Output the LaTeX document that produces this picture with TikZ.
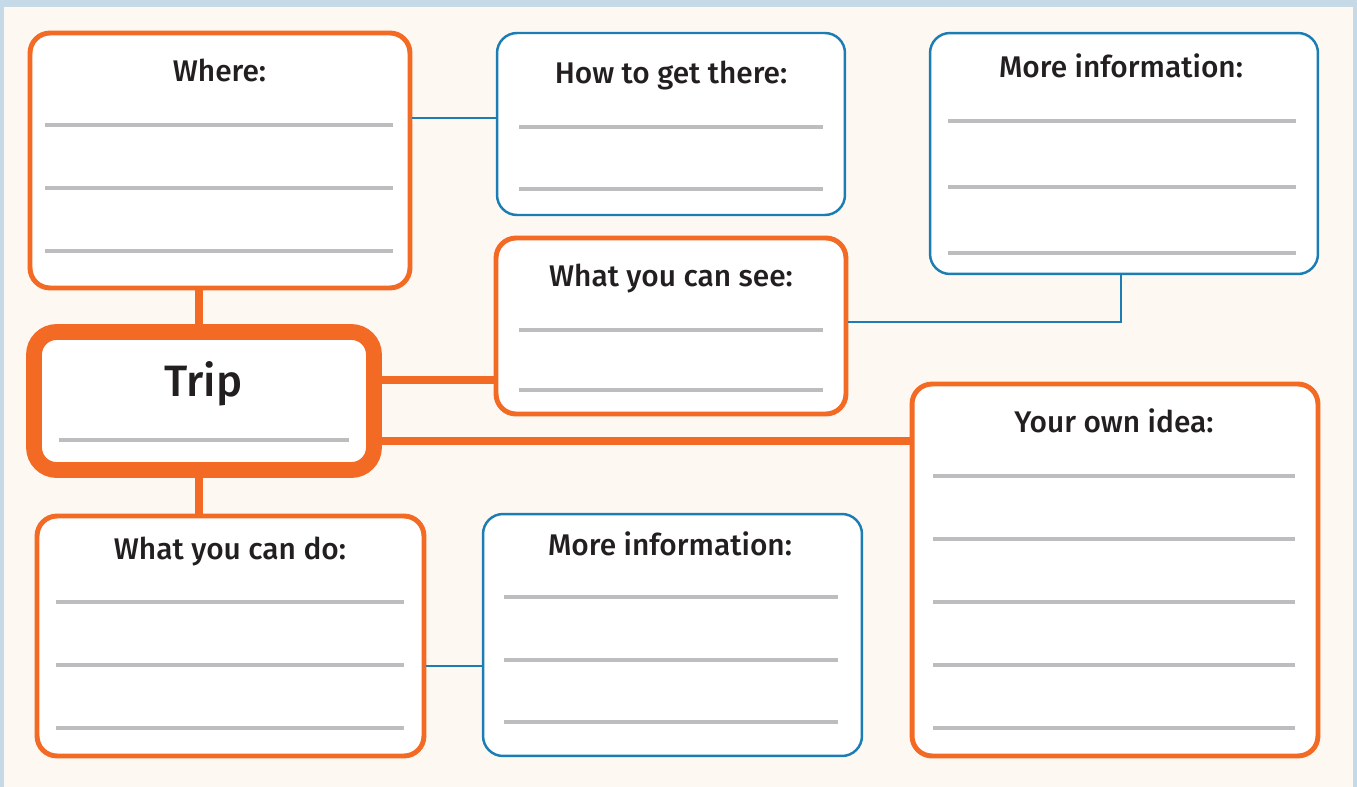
\documentclass[tikz,border=0pt]{standalone}
\usepackage{fontspec}
\setmainfont{Fira Sans}
\newfontfamily\titlefont{Fira Sans Medium}
\begin{document}
\begin{tikzpicture}[x=0.02cm,y=-0.02cm,
  box/.style={draw, rectangle, rounded corners=0.4cm, fill=white, inner sep=0pt},
  obox/.style={box, draw=OrangeC, line width=2.8pt},
  bbox/.style={box, draw=BlueC, line width=1.4pt},
  tbox/.style={box, draw=OrangeC, line width=9pt, rounded corners=0.45cm},
  title/.style={anchor=base, text=TextC, font=\titlefont\fontsize{17}{19}\selectfont, inner sep=0pt},
  wline/.style={draw=GrayC, line width=1.8pt},
  oconn/.style={draw=OrangeC, line width=4pt},
  bconn/.style={draw=BlueC, line width=1.4pt}]
\definecolor{OrangeC}{HTML}{F26A24}
\definecolor{BlueC}{HTML}{1B7DB3}
\definecolor{GrayC}{HTML}{BDBDC0}
\definecolor{TextC}{HTML}{231F20}
\definecolor{BgC}{HTML}{FDF8F2}
\definecolor{FrameC}{HTML}{C6D9E6}
% background and frame
\fill[FrameC] (0,0) rectangle (1357,787);
\fill[BgC] (4,7) rectangle (1353,787);
\useasboundingbox (0,0) rectangle (1357,787);
% coordinates for connectors
\coordinate (vx) at (199,0);
\coordinate (bx) at (1121,0);
\coordinate (ys) at (0,380);
\coordinate (yo) at (0,441);
\coordinate (yw) at (0,118);
\coordinate (yv) at (0,322);
\coordinate (yd) at (0,666);
% boxes
\node[obox, minimum width=7.6cm, minimum height=5.1cm] (where) at (220,160.5) {};
\node[bbox, minimum width=6.96cm, minimum height=3.64cm] (how) at (671,124) {};
\node[bbox, minimum width=7.76cm, minimum height=4.82cm] (moret) at (1124,153.5) {};
\node[obox, minimum width=7.0cm, minimum height=3.52cm] (see) at (671,326) {};
\node[obox, minimum width=7.74cm, minimum height=4.8cm] (do) at (230.5,636) {};
\node[bbox, minimum width=7.58cm, minimum height=4.84cm] (moreb) at (672.5,635) {};
\node[obox, minimum width=8.12cm, minimum height=7.44cm] (own) at (1115,570) {};
\node[tbox, minimum width=6.8cm, minimum height=2.76cm] (trip) at (204,401) {};
% connectors
\draw[oconn] (where.south -| vx) -- (trip.north -| vx);
\draw[oconn] (trip.south -| vx) -- (do.north -| vx);
\draw[oconn] (ys -| trip.east) -- (ys -| see.west);
\draw[oconn] (yo -| trip.east) -- (yo -| own.west);
\draw[bconn] (yw -| where.east) -- (yw -| how.west);
\draw[bconn] (yv -| see.east) -- (yv -| bx) -- (moret.south -| bx);
\draw[bconn] (yd -| do.east) -- (yd -| moreb.west);
% titles
\node[title] (twhere) at (219.5,82) {Where:};
\node[title] (thow) at (671,84) {How to get there:};
\node[title] (tmoret) at (1121,78) {More information:};
\node[title] (tsee) at (671,287) {What you can see:};
\node[title, font=\titlefont\fontsize{25}{28}\selectfont] (ttrip) at (203.5,397) {Trip};
\node[title] (town) at (1114,433) {Your own idea:};
\node[title] (tdo) at (230,560) {What you can do:};
\node[title] (tmoreb) at (670,555) {More information:};
% writing lines
\foreach \y in {125,188,251} \draw[wline] (45,\y) -- (393,\y);
\foreach \y in {127,189} \draw[wline] (519,\y) -- (823,\y);
\foreach \y in {121,187,253} \draw[wline] (948,\y) -- (1296,\y);
\foreach \y in {330,390} \draw[wline] (519,\y) -- (823,\y);
\draw[wline] (59,440) -- (349,440);
\foreach \y in {476,539,602,665,728} \draw[wline] (933,\y) -- (1295,\y);
\foreach \y in {602,665,728} \draw[wline] (56,\y) -- (404,\y);
\foreach \y in {597,660,722} \draw[wline] (504,\y) -- (838,\y);
\end{tikzpicture}
\end{document}
